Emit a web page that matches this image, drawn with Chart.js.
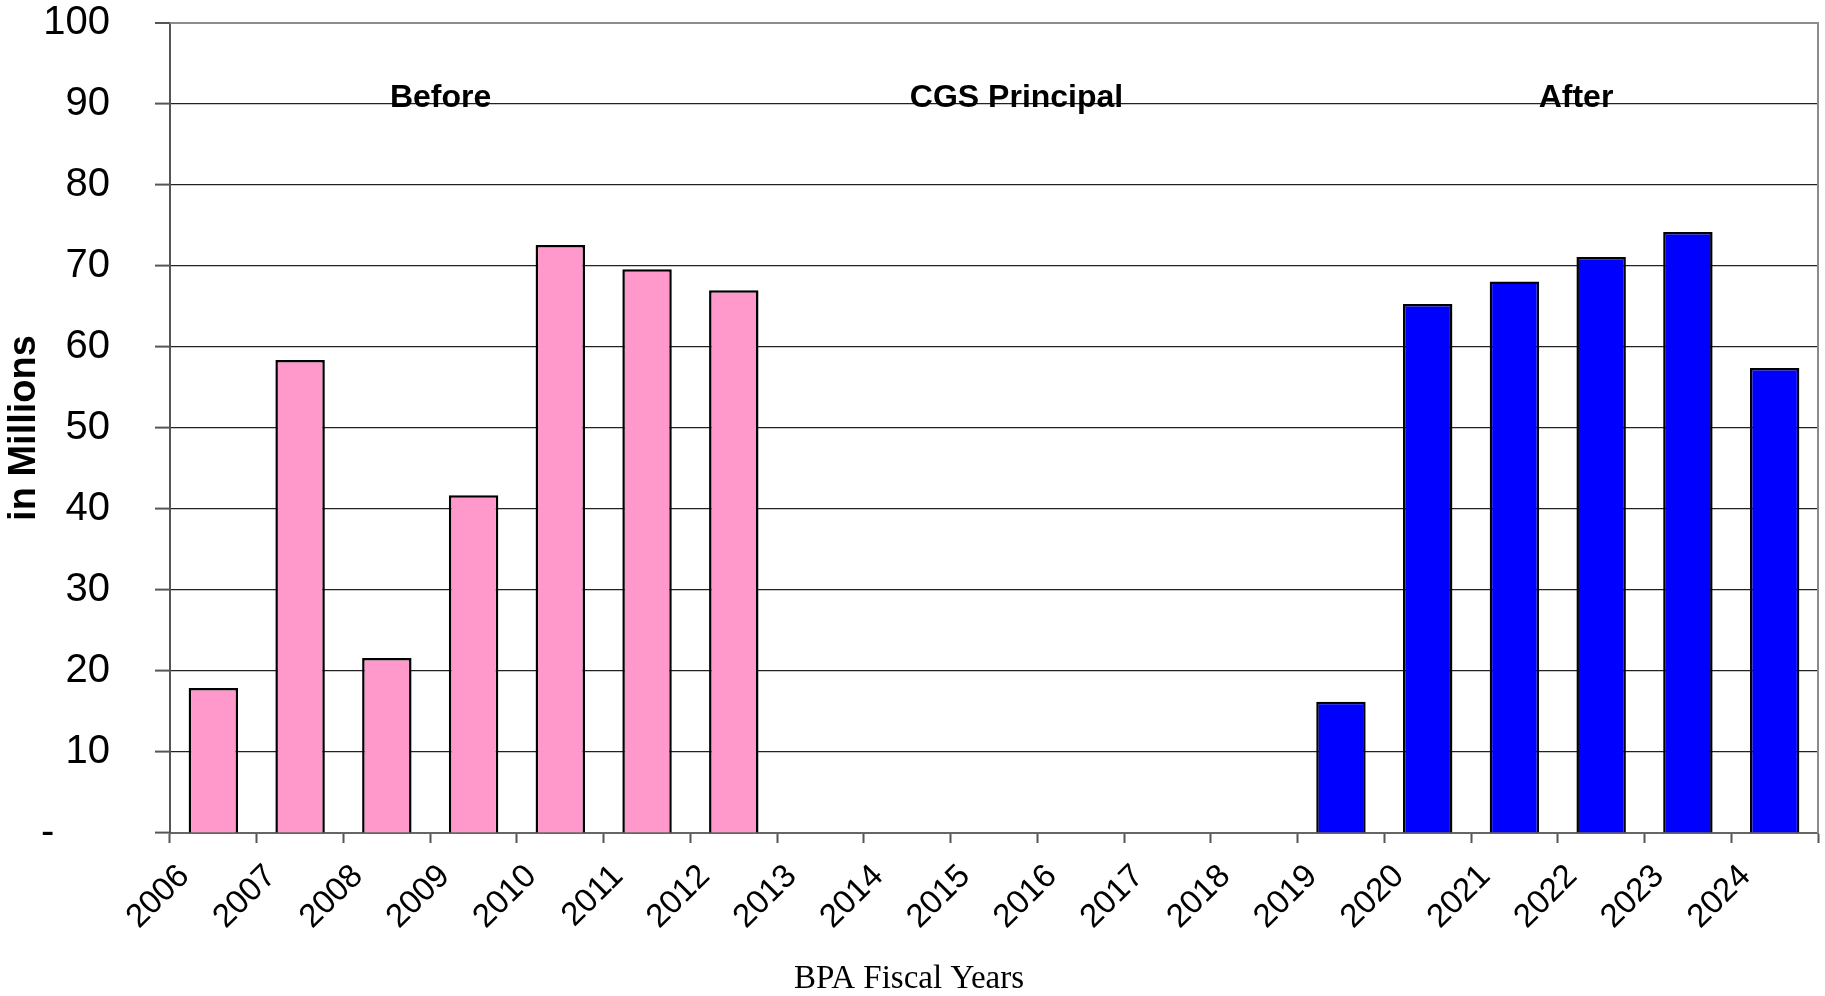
<!DOCTYPE html>
<html lang="en">
<head>
    <meta charset="UTF-8">
    <title>CGS Principal - BPA Fiscal Years</title>
    <script src="https://cdn.jsdelivr.net/npm/chart.js@4.4.1/dist/chart.umd.min.js"></script>
    <style>
        body {
            margin: 0;
            background: #ffffff;
        }
        .canvas-wrapper {
            width: 1825px;
            height: 996px;
            position: relative;
        }
    </style>
</head>
<body>

<div class="canvas-wrapper">
    <canvas id="cgsChart"></canvas>
</div>

<script>
    // --- DATA (in millions) ---
    const years = ['2006', '2007', '2008', '2009', '2010', '2011', '2012', '2013', '2014', '2015',
                   '2016', '2017', '2018', '2019', '2020', '2021', '2022', '2023', '2024'];
    const beforeValues = [17.9, 58.4, 21.6, 41.7, 72.6, 69.6, 67.0, null, null, null,
                          null, null, null, null, null, null, null, null, null];
    const afterValues = [null, null, null, null, null, null, null, null, null, null,
                         null, null, null, 16.2, 65.3, 68.1, 71.1, 74.2, 57.4];
    const yTicks = [0, 10, 20, 30, 40, 50, 60, 70, 80, 90, 100];
    const headerLabels = ['Before', 'CGS Principal', 'After'];

    const sans = "'Liberation Sans', Arial, sans-serif";

    // header texts placed along the category axis (fractional index), just under the 90 line
    const headerPlugin = {
        id: 'headerLabels',
        afterDatasetsDraw(chart, args, opts) {
            const { ctx, scales: { x, y } } = chart;
            ctx.save();
            ctx.font = 'bold 32px ' + sans;
            ctx.fillStyle = '#000';
            ctx.textAlign = 'center';
            ctx.textBaseline = 'alphabetic';
            headerLabels.forEach((txt, i) => {
                ctx.fillText(txt, x.getPixelForValue(opts.at[i]), y.getPixelForValue(opts.yValue));
            });
            ctx.restore();
        }
    };

    // grey plot-area frame on the top and right side (Excel style)
    const framePlugin = {
        id: 'plotFrame',
        beforeDatasetsDraw(chart) {
            const { ctx, chartArea: a } = chart;
            ctx.save();
            ctx.strokeStyle = '#8c8c8c';
            ctx.lineWidth = 2;
            ctx.beginPath();
            ctx.moveTo(a.left, a.top);
            ctx.lineTo(a.right, a.top);
            ctx.lineTo(a.right, a.bottom);
            ctx.stroke();
            ctx.restore();
        }
    };

    const ctx = document.getElementById('cgsChart').getContext('2d');
    new Chart(ctx, {
        type: 'bar',
        data: {
            labels: years,
            datasets: [
                {
                    label: 'Before',
                    data: beforeValues,
                    backgroundColor: '#ff99cc',
                    borderColor: '#000000',
                    borderWidth: 2.5,
                    grouped: false,
                    barPercentage: 0.57,
                    categoryPercentage: 1.0
                },
                {
                    label: 'After',
                    data: afterValues,
                    backgroundColor: '#0000ff',
                    borderColor: '#000000',
                    borderWidth: 2.5,
                    grouped: false,
                    barPercentage: 0.57,
                    categoryPercentage: 1.0
                }
            ]
        },
        plugins: [framePlugin, headerPlugin],
        options: {
            responsive: true,
            maintainAspectRatio: false,
            animation: false,
            layout: {
                padding: { top: 23, right: 7, bottom: 0, left: 0 }
            },
            plugins: {
                legend: { display: false },
                tooltip: { enabled: false },
                title: {
                    display: true,
                    position: 'bottom',
                    text: 'BPA Fiscal Years',
                    font: { family: "'Liberation Serif', 'Times New Roman', serif", size: 33, weight: 'normal', lineHeight: 1.0 },
                    color: '#000',
                    padding: { top: 0, bottom: 0 }
                },
                headerLabels: {
                    at: [2.62, 9.26, 15.71],
                    yValue: 89.6
                }
            },
            scales: {
                x: {
                    offset: true,
                    afterFit(scale) { scale.height = 130; },
                    ticks: {
                        autoSkip: false,
                        maxRotation: 45,
                        minRotation: 45,
                        labelOffset: -29,
                        padding: 14,
                        color: '#000',
                        font: { family: sans, size: 33 }
                    },
                    grid: {
                        offset: true,
                        drawOnChartArea: false,
                        drawTicks: true,
                        tickLength: 10,
                        tickColor: '#555',
                        tickWidth: 2
                    },
                    border: { display: true, color: '#666', width: 2 }
                },
                y: {
                    min: 0,
                    max: 100,
                    afterFit(scale) {
                        scale.width = 170;
                        scale.paddingTop = 0;
                        scale.paddingBottom = 0;
                    },
                    afterBuildTicks(scale) {
                        scale.ticks = yTicks.map(v => ({ value: v }));
                    },
                    title: {
                        display: true,
                        text: 'in Millions',
                        font: { family: sans, size: 38, weight: 'bold' },
                        color: '#000',
                        padding: { top: 2, bottom: 0 }
                    },
                    ticks: {
                        padding: 45,
                        color: '#000',
                        font: { family: sans, size: 40 },
                        callback: v => (v === 0 ? '-     ' : String(v))
                    },
                    grid: {
                        color: ctx => (ctx.tick && ctx.tick.value === 100 ? '#8c8c8c' : '#222'),
                        lineWidth: ctx => (ctx.tick && ctx.tick.value === 100 ? 2 : 1.2),
                        drawTicks: true,
                        tickLength: 15,
                        tickColor: '#555',
                        tickWidth: 2
                    },
                    border: { display: true, color: '#555', width: 2 }
                }
            }
        }
    });
</script>

</body>
</html>
